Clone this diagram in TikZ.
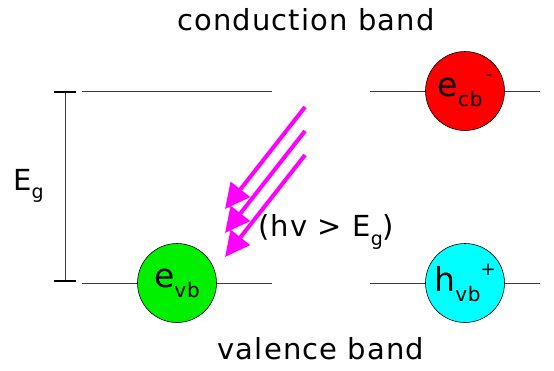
\documentclass[tikz,border=0pt]{standalone}
\usepackage{fontspec}
\setmainfont{DejaVu Sans}[LetterSpace=4]
\usetikzlibrary{arrows.meta,positioning,calc}
\definecolor{levelgray}{RGB}{60,60,60}
\definecolor{photon}{RGB}{255,0,255}
\definecolor{electron}{RGB}{0,240,0}
\definecolor{cbred}{RGB}{255,0,0}
\definecolor{hole}{RGB}{0,255,255}
\newcommand{\carrier}[3]{\raisebox{-3pt}{\fontsize{33}{36}\selectfont #1\raisebox{-0.3em}{\fontsize{20}{22}\selectfont #2}\raisebox{0.5em}{\fontsize{18}{20}\selectfont #3}}}

\begin{document}
\begin{tikzpicture}[x=1pt, y=-1pt,
    level/.style={draw=levelgray, line width=0.8pt},
    particle/.style={circle, draw=black, line width=0.6pt, minimum size=79pt, inner sep=0pt},
    label/.style={font=\fontsize{29}{32}\selectfont},
    light/.style={draw=photon, line width=4pt, -{Triangle[length=25pt,width=24pt]}}
]
    \useasboundingbox (0,0) rectangle (554,370);

    % band levels
    \coordinate (cbl) at (82,91);  \coordinate (cbm) at (272,91);
    \coordinate (cbr) at (370,91); \coordinate (cbe) at (540,91);
    \coordinate (vbl) at (82,283); \coordinate (vbm) at (272,283);
    \coordinate (vbr) at (370,283); \coordinate (vbe) at (540,283);
    \draw[level] (cbl) -- (cbm);
    \draw[level] (cbr) -- (cbe);
    \draw[level] (vbl) -- (vbm);
    \draw[level] (vbr) -- (vbe);

    % band gap
    \coordinate (gt) at (65,92);
    \coordinate (gb) at (65,281);
    \draw[levelgray, line width=0.8pt] (gt) -- (gb);
    \draw[black, line width=2.5pt] ($(gt)+(-11,0)$) -- ($(gt)+(11,0)$);
    \draw[black, line width=2.5pt] ($(gb)+(-11,0)$) -- ($(gb)+(11,0)$);
    \node[label, anchor=west, inner sep=0pt] (eg) at (13,186) {E\raisebox{-0.3em}{\fontsize{19}{20}\selectfont g}};

    % carriers
    \node[particle, fill=cbred] (ecb) at (465,91) {\carrier{e}{cb}{\,-}};
    \node[particle, fill=electron] (evb) at (177,283) {\carrier{e}{vb}{}};
    \node[particle, fill=hole] (hvb) at (465,283) {\carrier{h}{vb}{+}};

    % photons
    \foreach \i/\d in {1/0, 2/24, 3/48} {
        \coordinate (ps\i) at (305,107+\d);
        \coordinate (pe\i) at (225,209+\d);
        \draw[light] (ps\i) -- (pe\i);
    }
    \node[label, anchor=west, inner sep=0pt] (hv) at (258,232) {(hv > E\raisebox{-0.3em}{\fontsize{19}{20}\selectfont g})};

    % band names
    \node[label] (cb) at (306,20) {conduction band};
    \node[label] (vb) at (321,349) {valence band};
\end{tikzpicture}
\end{document}
